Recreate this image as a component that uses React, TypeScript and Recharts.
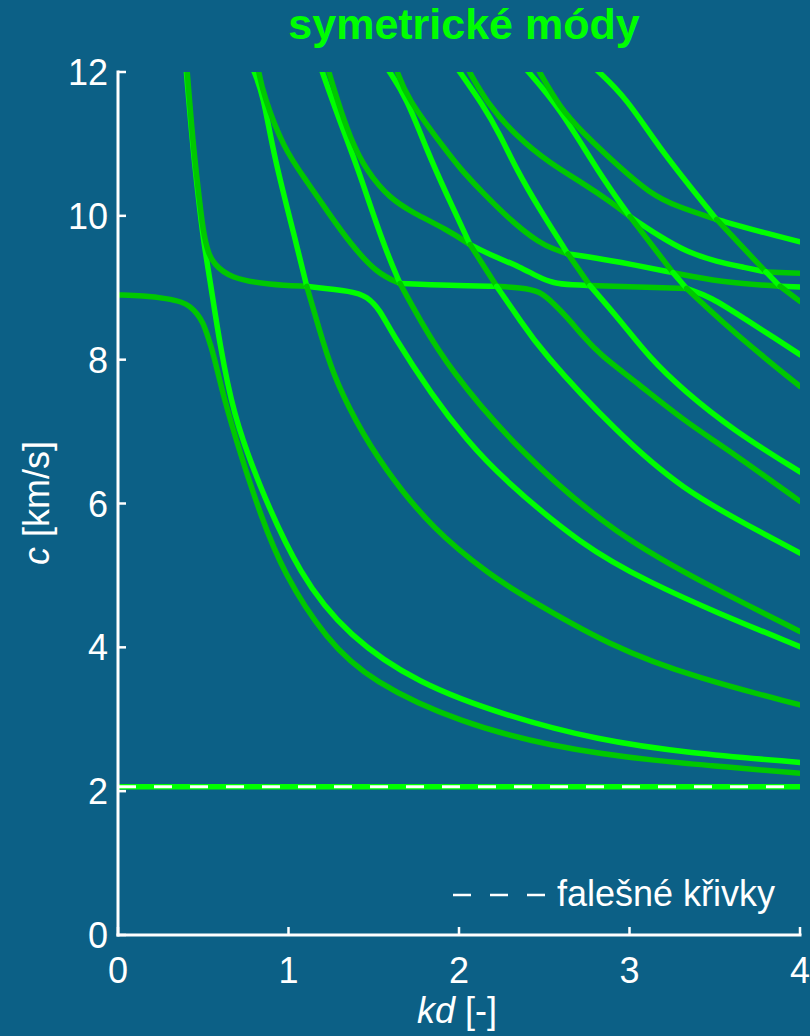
import React from 'react';
import { LineChart, Line, XAxis, YAxis } from 'recharts';

type Pt = [number, number];

const BRIGHT = '#00ff00';
const DARK = '#00c800';
const BG = '#0c6086';
const FONT = '"Liberation Sans", Arial, Helvetica, sans-serif';

const kdTicks = [0, 1, 2, 3, 4];
const cTicks = [0, 2, 4, 6, 8, 10, 12];

// false root, drawn green with the white dashes over it
const flat: Pt[] = [[0, 2.06], [4, 2.06]];

// the curves as [kd, c]
const l0: Pt[] = [[0, 8.9], [0.15, 8.89], [0.286, 8.85], [0.38, 8.8], [0.422, 8.74], [0.465, 8.64], [0.5, 8.51], [0.53, 8.3], [0.559, 8.09], [0.618, 7.49], [0.716, 6.7], [0.833, 5.86], [0.97, 5.03], [1.223, 4.1], [1.487, 3.52], [2.018, 2.94], [2.548, 2.62], [3.079, 2.43], [4, 2.25]];
const s1: Pt[] = [[0.4, 12.03], [0.437, 11.0], [0.468, 10.32], [0.5, 9.67], [0.54, 9.1], [0.598, 8.2], [0.676, 7.25], [0.813, 6.33], [1.067, 4.98], [1.355, 4.15], [1.754, 3.5], [2.284, 3.04], [2.815, 2.71], [3.343, 2.53], [4, 2.4]];
const aCurve: Pt[] = [[0.405, 12.03], [0.44, 11.0], [0.471, 10.36], [0.5, 9.76], [0.53, 9.48], [0.559, 9.34], [0.657, 9.13], [0.891, 9.04], [1.107, 9.02], [1.38, 8.95], [1.459, 8.88], [1.537, 8.69], [1.595, 8.41], [1.848, 7.48], [2.047, 6.88], [2.24, 6.38], [2.727, 5.4], [3.12, 4.9], [3.513, 4.48], [4, 4.01]];
const s2: Pt[] = [[0.794, 12.03], [0.853, 11.68], [0.911, 10.85], [1.048, 9.6], [1.107, 9.02], [1.173, 8.48], [1.261, 7.79], [1.39, 7.16], [1.554, 6.51], [1.848, 5.63], [2.199, 4.98], [2.34, 4.77], [2.886, 4.01], [3.413, 3.56], [4, 3.2]];
const bCurve: Pt[] = [[0.823, 12.03], [0.853, 11.68], [0.97, 10.94], [1.107, 10.48], [1.243, 10.01], [1.361, 9.62], [1.517, 9.2], [1.654, 9.06], [1.947, 9.03], [2.221, 9.02], [2.358, 9.0], [2.475, 8.96], [2.563, 8.76], [2.63, 8.6], [2.729, 8.32], [2.827, 8.07], [3.044, 7.68], [3.314, 7.16], [3.607, 6.7], [4, 6.03]];
const s3: Pt[] = [[1.194, 12.03], [1.302, 11.31], [1.4, 10.71], [1.556, 9.6], [1.654, 9.06], [1.771, 8.55], [1.947, 7.86], [2.34, 6.75], [2.927, 5.54], [3.513, 4.8], [4, 4.22]];
const cCurve: Pt[] = [[1.233, 12.03], [1.282, 11.64], [1.361, 11.08], [1.458, 10.62], [1.595, 10.24], [1.732, 10.04], [1.928, 9.81], [2.065, 9.6], [2.123, 9.53], [2.221, 9.42], [2.358, 9.29], [2.456, 9.16], [2.553, 9.06], [2.67, 9.04], [2.768, 9.03], [3.05, 9.01], [3.335, 8.99], [3.472, 8.88], [3.687, 8.55], [3.853, 8.3], [4, 8.07]];
const s4: Pt[] = [[1.585, 12.03], [1.693, 11.64], [1.81, 10.92], [1.925, 10.31], [2.065, 9.6], [2.221, 9.02], [2.358, 8.55], [2.475, 8.14], [2.927, 6.98], [3.314, 6.19], [3.707, 5.68], [4, 5.31]];
const dCurve: Pt[] = [[1.634, 12.03], [1.693, 11.64], [1.927, 10.9], [2.006, 10.66], [2.123, 10.36], [2.318, 9.9], [2.475, 9.62], [2.553, 9.54], [2.639, 9.47], [2.788, 9.42], [3.003, 9.33], [3.255, 9.21], [3.531, 9.08], [3.883, 9.02], [4, 9.01]];
const s5: Pt[] = [[1.996, 12.03], [2.141, 11.54], [2.24, 11.13], [2.338, 10.64], [2.475, 10.08], [2.639, 9.47], [2.768, 9.03], [2.944, 8.55], [3.12, 8.02], [3.314, 7.58], [3.607, 7.02], [4, 6.44]];
const eCurve: Pt[] = [[2.055, 12.03], [2.163, 11.57], [2.338, 11.1], [2.534, 10.73], [2.729, 10.45], [2.886, 10.2], [3.003, 9.99], [3.179, 9.71], [3.335, 9.5], [3.511, 9.36], [3.68, 9.28], [3.8, 9.22], [4, 9.2]];
const s6: Pt[] = [[2.397, 12.03], [2.592, 11.5], [2.827, 10.57], [3.003, 9.99], [3.255, 9.21], [3.335, 8.99], [3.531, 8.55], [3.805, 8.0], [4, 7.63]];
const gCurve: Pt[] = [[2.465, 12.03], [2.592, 11.5], [2.729, 11.15], [2.925, 10.71], [3.12, 10.31], [3.277, 10.13], [3.511, 9.95], [3.765, 9.78], [4, 9.64]];
const s7: Pt[] = [[2.807, 12.03], [2.983, 11.64], [3.179, 10.92], [3.511, 9.95], [3.8, 9.22], [3.883, 9.02], [4, 8.81]];

// where two curves cross the colours swap (roots sorted by speed)
const curves: [Pt[], number[], string[]][] = [
  [flat, [], [BRIGHT]],
  [l0, [], [DARK]],
  [s1, [], [BRIGHT]],
  [aCurve, [1.107], [DARK, BRIGHT]],
  [s2, [1.107], [BRIGHT, DARK]],
  [bCurve, [1.654, 2.221], [DARK, BRIGHT, DARK]],
  [s3, [1.654], [BRIGHT, DARK]],
  [cCurve, [2.065, 2.768, 3.335], [DARK, BRIGHT, DARK, BRIGHT]],
  [s4, [2.065, 2.221], [BRIGHT, DARK, BRIGHT]],
  [dCurve, [2.639, 3.255, 3.883], [DARK, BRIGHT, DARK, BRIGHT]],
  [s5, [2.639, 2.768], [BRIGHT, DARK, BRIGHT]],
  [eCurve, [3.003, 3.8], [DARK, BRIGHT, DARK]],
  [s6, [3.003, 3.255, 3.335], [BRIGHT, DARK, BRIGHT, DARK]],
  [gCurve, [3.511], [DARK, BRIGHT]],
  [s7, [3.511, 3.8, 3.883], [BRIGHT, DARK, BRIGHT, DARK]],
];

const segments = curves.flatMap(([pts, breaks, colors]) => {
  const edges = [-Infinity, ...breaks, Infinity];
  return colors.map((color, i) => ({
    color,
    data: pts
      .filter(([kd]) => kd >= edges[i] - 1e-9 && kd <= edges[i + 1] + 1e-9)
      .map(([kd, c]) => ({ kd, c })),
  }));
});

const falseData = flat.map(([kd, c]) => ({ kd, c }));

const axisStyle = { stroke: '#ffffff', strokeWidth: 3, strokeLinecap: 'square' as const };

const BottomTick = (p: any) => (
  <g>
    <line x1={p.x} y1={p.y} x2={p.x} y2={p.y - 8} stroke="#fff" strokeWidth={2.5} />
    <text x={p.x} y={p.y + 48} textAnchor="middle" fill="#fff" fontSize={36} fontFamily={FONT}>
      {p.payload.value}
    </text>
  </g>
);
const TopTick = (p: any) => <line x1={p.x} y1={p.y} x2={p.x} y2={p.y + 8} stroke="#fff" strokeWidth={2.5} />;
const LeftTick = (p: any) => (
  <g>
    <line x1={p.x} y1={p.y} x2={p.x + 8} y2={p.y} stroke="#fff" strokeWidth={2.5} />
    <text x={p.x - 10} y={p.y + 13} textAnchor="end" fill="#fff" fontSize={36} fontFamily={FONT}>
      {p.payload.value}
    </text>
  </g>
);
const RightTick = (p: any) => <line x1={p.x} y1={p.y} x2={p.x - 8} y2={p.y} stroke="#fff" strokeWidth={2.5} />;

export default function App() {
  return (
    <div style={{ position: 'absolute', left: 0, top: 0, width: 810, height: 1036, background: BG }}>
      <LineChart width={810} height={1036} margin={{ top: 72, right: 10, bottom: 0, left: 0 }}>
        <XAxis xAxisId="b" type="number" dataKey="kd" domain={[0, 4]} ticks={kdTicks} interval={0} height={101}
          tickSize={0} tickMargin={0} tickLine={false} axisLine={axisStyle} tick={BottomTick} allowDataOverflow />
        <XAxis xAxisId="t" orientation="top" type="number" dataKey="kd" domain={[0, 4]} ticks={kdTicks} interval={0} height={0}
          tickSize={0} tickMargin={0} tickLine={false} axisLine={axisStyle} tick={TopTick} allowDataOverflow />
        <YAxis yAxisId="l" type="number" domain={[0, 12]} ticks={cTicks} interval={0} width={118}
          tickSize={0} tickMargin={0} tickLine={false} axisLine={axisStyle} tick={LeftTick} allowDataOverflow />
        <YAxis yAxisId="r" orientation="right" type="number" domain={[0, 12]} ticks={cTicks} interval={0} width={0}
          tickSize={0} tickMargin={0} tickLine={false} axisLine={axisStyle} tick={RightTick} allowDataOverflow />
        {segments.map((s, i) => (
          <Line key={i} xAxisId="b" yAxisId="l" data={s.data} dataKey="c" type="basis" stroke={s.color}
            strokeWidth={5.5} strokeLinecap="round" dot={false} activeDot={false} isAnimationActive={false} />
        ))}
        <Line xAxisId="b" yAxisId="l" data={falseData} dataKey="c" type="linear" stroke="#ffffff" strokeWidth={3}
          strokeDasharray="18 18" dot={false} activeDot={false} isAnimationActive={false} />
      </LineChart>
      <svg width={810} height={1036} style={{ position: 'absolute', left: 0, top: 0, pointerEvents: 'none' }}
        fontFamily={FONT}>
        <text x={464} y={39} textAnchor="middle" fontSize={43} fontWeight="bold" fill={BRIGHT}>symetrické módy</text>
        <text x={457} y={1023} textAnchor="middle" fontSize={36} fill="#fff">
          <tspan fontStyle="italic">kd</tspan> [-]
        </text>
        <text transform="translate(49,503) rotate(-90)" textAnchor="middle" fontSize={36} fill="#fff">
          <tspan fontStyle="italic">c</tspan> [km/s]
        </text>
        <line x1={453} y1={895} x2={546} y2={895} stroke="#fff" strokeWidth={2.5} strokeDasharray="18 19" />
        <text x={557} y={906} fontSize={36} fill="#fff">falešné křivky</text>
      </svg>
    </div>
  );
}
